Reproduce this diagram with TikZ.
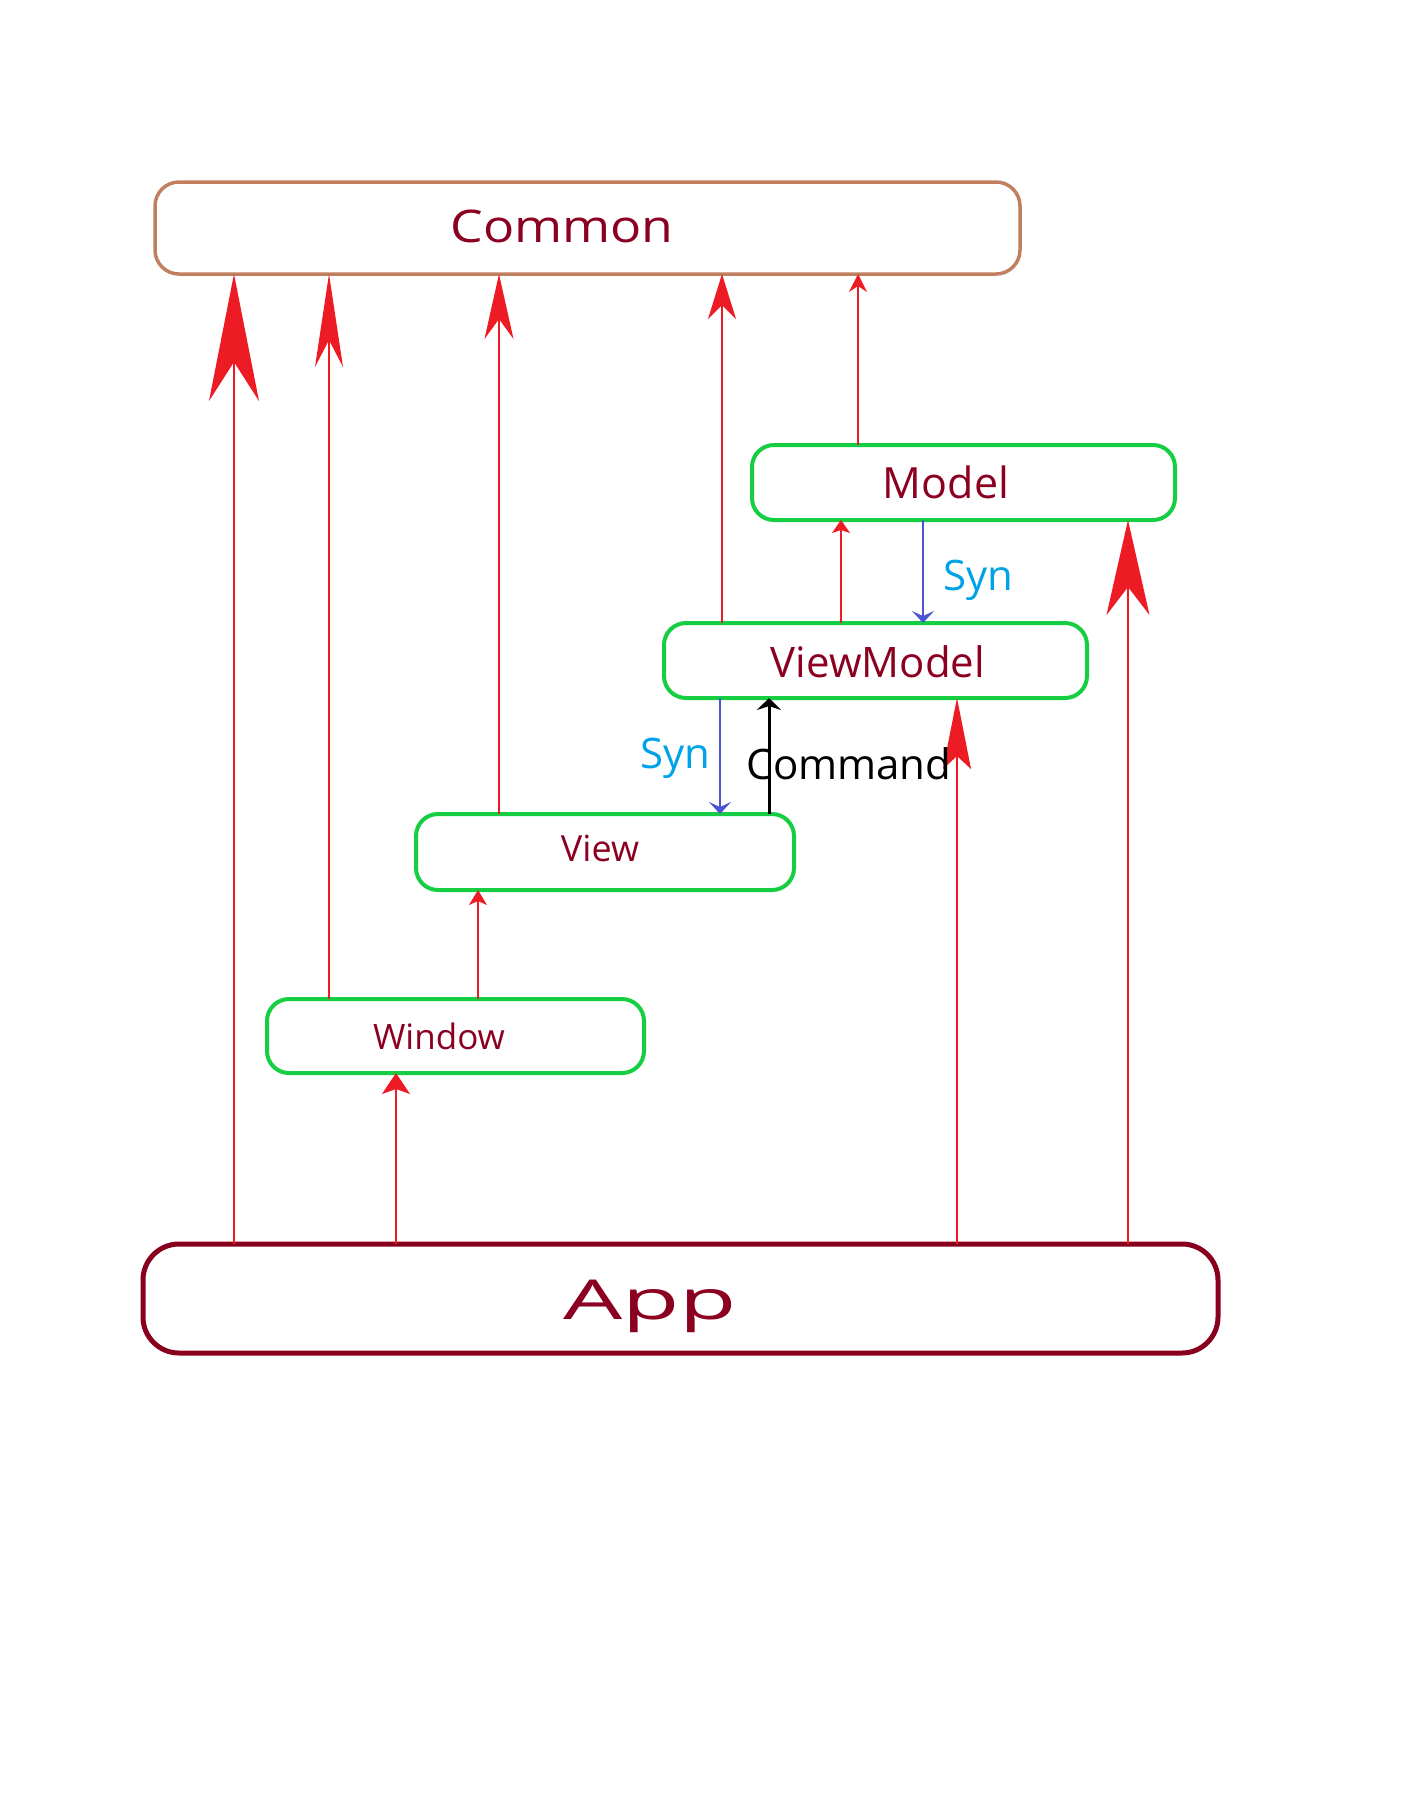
\documentclass[tikz,border=0pt]{standalone}
\usepackage{fontspec}
\setmainfont{Open Sans}
\usetikzlibrary{arrows.meta}
\definecolor{txtred}{RGB}{139,0,32}
\definecolor{boxgreen}{RGB}{22,206,66}
\definecolor{boxbrown}{RGB}{192,128,96}
\definecolor{apprd}{RGB}{136,0,30}
\definecolor{arrred}{RGB}{237,28,36}
\definecolor{synblue}{RGB}{76,86,210}
\definecolor{syncyan}{RGB}{0,162,232}
\begin{document}
\begin{tikzpicture}[x=0.5pt,y=-0.5pt,
  box/.style={draw=boxgreen, line width=2pt, rounded corners=11pt, inner sep=0pt, outer sep=0pt},
  lbl/.style={inner sep=0pt, anchor=base, text=txtred},
  dep/.style={draw=arrred, line width=0.9pt},
  syn/.style={draw=synblue, line width=1pt, -{Stealth[length=6pt,width=11pt,inset=2.5pt]}},
  cmd/.style={draw=black, line width=1.5pt, -{Stealth[length=6pt,width=12pt,inset=2pt]}},
  annot/.style={inner sep=0pt, anchor=base, font=\fontsize{21pt}{25pt}\selectfont}
]
\useasboundingbox (0,0) rectangle (1418,1806);

% boxes
\node[box, draw=boxbrown, line width=1.75pt, rounded corners=12pt, minimum width=432.5pt, minimum height=46pt] (common) at (587.5,228) {};
\node[box, minimum width=211.5pt, minimum height=37.5pt] (model) at (963.5,482.5) {};
\node[box, minimum width=211.5pt, minimum height=37.5pt] (vm) at (875.5,660.5) {};
\node[box, minimum width=189pt, minimum height=38pt] (view) at (605,852) {};
\node[box, minimum width=188.5pt, minimum height=37pt] (window) at (455.5,1036) {};
\node[box, draw=apprd, line width=2.5pt, rounded corners=18pt, minimum width=537.5pt, minimum height=54.5pt] (app) at (680.5,1298.5) {};

% labels
\node[lbl, font=\fontsize{22.5pt}{27pt}\selectfont] (tcommon) at (562,242) {\scalebox{1.15}[1]{Common}};
\node[lbl, font=\fontsize{21.5pt}{26pt}\selectfont] (tmodel) at (946,498) {Model};
\node[lbl, font=\fontsize{21pt}{25pt}\selectfont] (tvm) at (878,677) {ViewModel};
\node[lbl, font=\fontsize{18pt}{22pt}\selectfont] (tview) at (600,861) {View};
\node[lbl, font=\fontsize{17.5pt}{21pt}\selectfont] (twindow) at (439,1049) {Window};
\node[lbl, font=\fontsize{27.5pt}{33pt}\selectfont] (tapp) at (650,1319) {\scalebox{1.7}[1]{App}};

% x positions of connectors
\coordinate (x1) at (234,0);
\coordinate (x2) at (329,0);
\coordinate (x3) at (499,0);
\coordinate (x4) at (722,0);
\coordinate (x5) at (858,0);
\coordinate (x6) at (396,0);
\coordinate (x7) at (478,0);
\coordinate (x8) at (841,0);
\coordinate (x9) at (957,0);
\coordinate (x10) at (1128,0);
\coordinate (xs1) at (923,0);
\coordinate (xs2) at (720,0);
\coordinate (xc) at (769,0);

% red dependency arrows
\draw[dep, line width=1.2pt, -{Stealth[length=63.5pt,width=25pt,inset=19.5pt]}] (app.north -| x1) -- (common.south -| x1);
\draw[dep, -{Stealth[length=46.5pt,width=14pt,inset=13.5pt]}] (window.north -| x2) -- (common.south -| x2);
\draw[dep, -{Stealth[length=32.5pt,width=14.5pt,inset=10pt]}] (view.north -| x3) -- (common.south -| x3);
\draw[dep, -{Stealth[length=22.5pt,width=14pt,inset=7pt]}] (vm.north -| x4) -- (common.south -| x4);
\draw[dep, line width=0.7pt, -{Stealth[length=9pt,width=9pt,inset=3pt]}] (model.north -| x5) -- (common.south -| x5);
\draw[dep, -{Stealth[length=10.5pt,width=14pt,inset=2.5pt]}] (app.north -| x6) -- (window.south -| x6);
\draw[dep, line width=0.7pt, -{Stealth[length=7.5pt,width=9pt,inset=2pt]}] (window.north -| x7) -- (view.south -| x7);
\draw[dep, line width=0.7pt, -{Stealth[length=6.5pt,width=9pt,inset=1.5pt]}] (vm.north -| x8) -- (model.south -| x8);
\draw[dep, -{Stealth[length=35.5pt,width=14pt,inset=6.5pt]}] (app.north -| x9) -- (vm.south -| x9);
\draw[dep, -{Stealth[length=47.5pt,width=21.5pt,inset=14pt]}] (app.north -| x10) -- (model.south -| x10);

% Syn and Command
\draw[syn] (model.south -| xs1) -- (vm.north -| xs1);
\draw[syn] (vm.south -| xs2) -- (view.north -| xs2);
\draw[cmd] (view.north -| xc) -- (vm.south -| xc);

\node[annot, text=syncyan] (syn1) at (978,590) {Syn};
\node[annot, text=syncyan] (syn2) at (675,768) {Syn};
\node[annot, text=black] (command) at (849,779) {Command};
\end{tikzpicture}
\end{document}
